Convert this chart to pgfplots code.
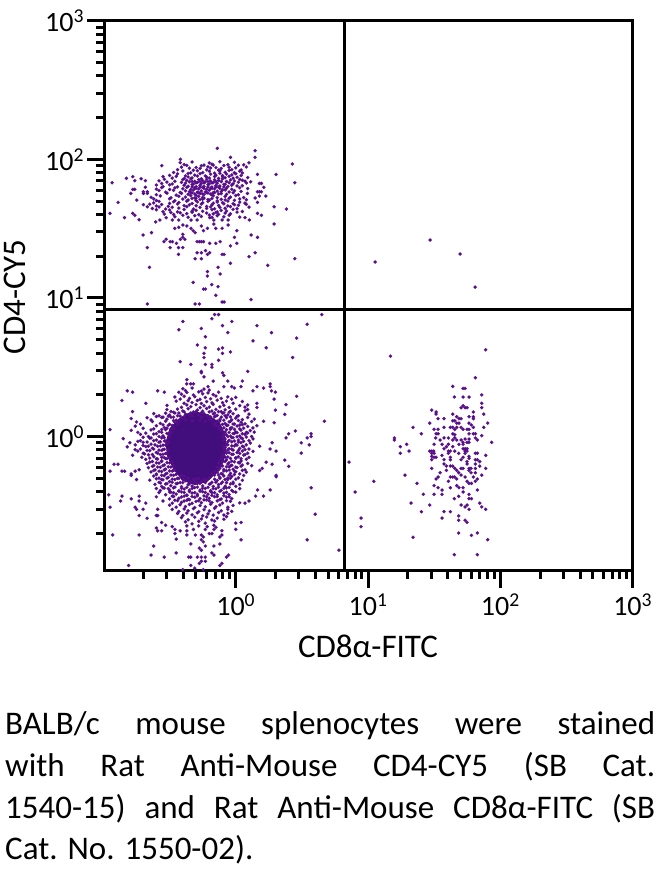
\documentclass[border=0pt]{standalone}
\usepackage{pgfplots}
\pgfplotsset{compat=1.18}
\usepackage{fontspec}
\setmainfont{Carlito}
\definecolor{dot}{RGB}{88,14,138}
\definecolor{core}{RGB}{66,14,126}
\pgfplotsset{pts/.style={only marks,mark=*,mark size=1.7pt,mark options={solid,draw=dot,fill=dot,line width=0.1pt},dot}}
\begin{document}
\begin{tikzpicture}
\useasboundingbox (0,0) rectangle (662pt,870pt);
\begin{axis}[
  at={(104.5pt,299pt)},anchor=south west,scale only axis,
  width=528.2pt,height=550.3pt,
  xmin=-0.992,xmax=3,ymin=-0.97,ymax=3,
  axis line style={black,line width=3pt},
  xtick pos=bottom,ytick pos=left,
  tick align=outside,tick style={black,line width=3pt},
  major tick length=17pt,minor tick length=8pt,
  xtick={0,1,2,3},ytick={0,1,2,3},
  xticklabels={10\textsuperscript{0},10\textsuperscript{1},10\textsuperscript{2},10\textsuperscript{3}},
  yticklabels={10\textsuperscript{0},10\textsuperscript{1},10\textsuperscript{2},10\textsuperscript{3}},
  minor xtick={-0.699,-0.523,-0.398,-0.301,-0.222,-0.155,-0.097,-0.046,0.301,0.477,0.602,0.699,0.778,0.845,0.903,0.954,1.301,1.477,1.602,1.699,1.778,1.845,1.903,1.954,2.301,2.477,2.602,2.699,2.778,2.845,2.903,2.954},
  minor ytick={-0.699,-0.523,-0.398,-0.301,-0.222,-0.155,-0.097,-0.046,0.301,0.477,0.602,0.699,0.778,0.845,0.903,0.954,1.301,1.477,1.602,1.699,1.778,1.845,1.903,1.954,2.301,2.477,2.602,2.699,2.778,2.845,2.903,2.954},
  ticklabel style={font=\fontsize{28}{32}\selectfont},
  xticklabel style={yshift=-2pt},
  xlabel={CD8α-FITC},ylabel={CD4-CY5},
  label style={font=\fontsize{33}{38}\selectfont},
  x label style={at={(axis description cs:0.499,-0.158)},anchor=base},
  y label style={at={(axis description cs:-0.15,0.498)},anchor=base},
  clip=false,
]
% upper left population, outer points
\addplot[pts] coordinates {(-.139,2.079)(.146,2.062)(.146,2.014)(-.418,2.0)(-.04,2.014)(.428,1.966)(-.559,1.954)(.305,1.891)(.164,1.891)(.446,1.831)(-.935,1.831)(-.826,1.863)(-.778,1.875)(-.763,1.846)(-.715,1.86)(-.683,1.846)(-.683,1.798)(-.778,1.783)(-.763,1.783)(-.793,1.754)(-.698,1.766)(-.698,1.754)(-.668,1.766)(-.668,1.754)(-.748,1.706)(-.889,1.689)(-.95,1.61)(-.841,1.579)(-.778,1.61)(-.763,1.596)(-.73,1.564)(-.698,1.673)(-.668,1.658)(-.7,1.454)(-.637,1.471)(-.668,1.363)(-.652,1.221)(-.668,.956)
(.29,1.658)(.383,1.641)(.29,1.533)(.164,1.61)(.194,1.596)(.07,1.579)(.103,1.562)(.179,1.826)(.194,1.826)(.212,1.798)(.164,1.766)(.179,1.766)(.194,1.766)(.179,1.735)(.227,1.735)(.146,1.721)(.164,1.689)(.113,1.838)(.07,1.843)(.088,1.754)
(.116,1.454)(.164,1.437)(.008,1.485)(-.01,1.437)(.008,1.394)(-.04,1.375)(-.118,1.406)(-.151,1.394)(-.197,1.394)(.1,1.298)(.146,1.326)(-.04,1.25)(.242,1.235)(.446,1.283)(-.103,1.314)(-.088,1.314)(-.229,1.341)(-.26,1.326)(-.292,1.326)(-.197,1.326)(-.214,1.314)(-.307,1.283)(-.26,1.283)(-.134,1.221)(-.214,1.19)(-.214,1.158)(-.118,1.173)(-.322,1.112)(-.181,1.096)(-.134,1.081)(-.244,1.064)(-.229,1.064)(-.151,1.019)(.116,.988)(-.103,.971)(-.088,.971)(-.307,.956)(-.275,.956)
(-.542,1.406)(-.526,1.423)(-.496,1.406)(-.479,1.406)(-.4,1.459)(-.4,1.437)(-.418,1.423)(-.385,1.423)(-.496,1.363)(-.448,1.394)(-.433,1.363)(-.4,1.363)(-.433,1.314)(-.292,1.406)(-.275,1.406)(-.26,1.406)(-.244,1.406)
(-.461,1.502)(-.431,1.509)(-.4,1.526)(-.37,1.519)(-.338,1.502)(-.322,1.485)(-.307,1.471)(-.26,1.519)(-.244,1.485)(-.214,1.502)(-.166,1.533)(-.151,1.502)(-.103,1.502)(-.058,1.526)(-.058,1.562)(-.103,1.562)(-.166,1.562)(-.197,1.579)(-.292,1.562)(-.338,1.562)(-.431,1.562)(-.479,1.562)(-.526,1.579)(-.574,1.562)(-.605,1.548)};
% upper left population, main body
\addplot[pts] coordinates {(-.42,1.976)(-.39,1.962)(-.33,1.981)(-.24,1.958)(-.2,1.974)(-.18,1.965)(-.12,1.983)(-.06,1.961)(-.01,1.978)(.06,1.96)(.1,1.975)
(-.41,1.944)(-.37,1.956)(-.3,1.941)(-.26,1.953)(-.21,1.946)(-.17,1.958)(-.15,1.94)(-.09,1.955)(-.05,1.943)(.02,1.957)(.08,1.945)
(-.44,1.925)(-.35,1.936)(-.32,1.921)(-.27,1.934)(-.22,1.924)(-.19,1.937)(-.13,1.922)(-.11,1.934)(-.03,1.926)(0,1.938)(.04,1.923)
(-.47,1.905)(-.4,1.916)(-.34,1.902)(-.29,1.918)(-.25,1.904)(-.2,1.914)(-.16,1.9)(-.12,1.917)(-.08,1.906)(-.05,1.919)(-.01,1.903)(.03,1.915)(.05,1.901)
(-.5,1.884)(-.44,1.895)(-.38,1.881)(-.36,1.898)(-.31,1.886)(-.27,1.896)(-.23,1.88)(-.19,1.893)(-.15,1.885)(-.12,1.899)(-.1,1.882)(-.07,1.894)(-.03,1.887)(0,1.897)(.04,1.883)
(-.55,1.875)(-.48,1.864)(-.45,1.877)(-.39,1.861)(-.36,1.873)(-.33,1.866)(-.29,1.879)(-.26,1.86)(-.22,1.872)(-.2,1.865)(-.16,1.876)(-.13,1.862)(-.1,1.874)(-.08,1.867)(-.05,1.878)(-.02,1.863)(.01,1.871)(.09,1.868)
(-.58,1.845)(-.54,1.856)(-.46,1.842)(-.4,1.854)(-.37,1.848)(-.34,1.858)(-.31,1.841)(-.28,1.853)(-.25,1.846)(-.22,1.857)(-.19,1.843)(-.16,1.852)(-.13,1.847)(-.1,1.859)(-.07,1.84)(-.04,1.851)(-.01,1.844)(.03,1.855)(.05,1.849)
(-.56,1.826)(-.52,1.836)(-.48,1.822)(-.41,1.834)(-.38,1.828)(-.35,1.838)(-.32,1.821)(-.29,1.833)(-.26,1.825)(-.23,1.837)(-.2,1.823)(-.17,1.832)(-.14,1.827)(-.11,1.839)(-.08,1.82)(-.05,1.831)(-.02,1.824)(.02,1.835)(.08,1.829)
(-.6,1.815)(-.55,1.803)(-.5,1.816)(-.44,1.801)(-.39,1.813)(-.36,1.806)(-.33,1.818)(-.3,1.802)(-.27,1.812)(-.24,1.805)(-.21,1.817)(-.18,1.8)(-.15,1.811)(-.12,1.807)(-.09,1.819)(-.06,1.804)(-.03,1.814)(.01,1.808)(.05,1.81)
(-.6,1.785)(-.56,1.796)(-.5,1.782)(-.46,1.794)(-.4,1.788)(-.37,1.798)(-.34,1.781)(-.31,1.793)(-.28,1.786)(-.25,1.797)(-.22,1.783)(-.19,1.792)(-.16,1.787)(-.13,1.799)(-.1,1.78)(-.07,1.791)(-.03,1.784)(.03,1.795)(.09,1.789)
(-.58,1.775)(-.53,1.763)(-.47,1.776)(-.42,1.761)(-.38,1.773)(-.35,1.766)(-.32,1.778)(-.29,1.762)(-.26,1.772)(-.23,1.765)(-.2,1.777)(-.17,1.76)(-.14,1.771)(-.11,1.767)(-.08,1.779)(-.05,1.764)(-.01,1.774)(.04,1.768)
(-.6,1.745)(-.52,1.756)(-.45,1.742)(-.41,1.754)(-.36,1.748)(-.33,1.758)(-.3,1.741)(-.27,1.753)(-.24,1.746)(-.21,1.757)(-.18,1.743)(-.11,1.752)(-.07,1.747)(-.02,1.759)(.02,1.744)
(-.64,1.726)(-.57,1.736)(-.49,1.722)(-.43,1.734)(-.38,1.728)(-.34,1.738)(-.31,1.721)(-.28,1.733)(-.25,1.725)(-.17,1.737)(-.14,1.723)(-.08,1.732)(-.04,1.727)(0,1.739)(.06,1.724)
(-.62,1.715)(-.6,1.703)(-.5,1.716)(-.46,1.701)(-.4,1.713)(-.36,1.706)(-.33,1.718)(-.3,1.702)(-.25,1.712)(-.2,1.705)(-.18,1.717)(-.14,1.7)(-.11,1.711)(-.08,1.707)(-.05,1.719)(-.01,1.704)(.03,1.714)(.08,1.708)
(-.62,1.685)(-.58,1.696)(-.5,1.682)(-.47,1.694)(-.43,1.688)(-.37,1.698)(-.33,1.681)(-.29,1.693)(-.25,1.686)(-.21,1.697)(-.17,1.683)(-.14,1.692)(-.1,1.687)(-.06,1.699)(-.02,1.68)(.03,1.691)(.07,1.684)
(-.65,1.676)(-.6,1.663)(-.56,1.674)(-.51,1.661)(-.44,1.678)(-.39,1.666)(-.35,1.672)(-.3,1.665)(-.26,1.677)(-.22,1.66)(-.18,1.671)(-.13,1.667)(-.09,1.679)(-.06,1.664)(-.01,1.673)(.02,1.668)(.08,1.675)
(-.63,1.645)(-.58,1.656)(-.53,1.642)(-.48,1.654)(-.43,1.648)(-.37,1.658)(-.32,1.641)(-.27,1.653)(-.22,1.646)(-.19,1.657)(-.16,1.643)(-.12,1.652)(-.08,1.647)(-.04,1.659)(.01,1.644)(.1,1.655)
(-.6,1.636)(-.55,1.623)(-.5,1.634)(-.44,1.621)(-.39,1.638)(-.33,1.626)(-.3,1.632)(-.25,1.625)(-.18,1.637)(-.14,1.62)(-.11,1.631)(-.07,1.627)(-.02,1.639)(.05,1.624)
(-.54,1.605)(-.49,1.616)(-.47,1.602)(-.42,1.614)(-.37,1.608)(-.33,1.618)(-.28,1.601)(-.22,1.613)(-.17,1.606)(-.15,1.617)(-.13,1.603)(-.08,1.612)(-.04,1.607)(.01,1.619)
(-.46,1.586)(-.4,1.596)(-.36,1.582)(-.31,1.594)(-.26,1.588)(-.2,1.598)(-.18,1.581)(-.14,1.593)(-.09,1.585)(-.05,1.597)(.03,1.583)
(-.33,1.84)(-.3,1.83)(-.27,1.84)(-.24,1.83)(-.21,1.84)(-.18,1.83)(-.15,1.84)(-.33,1.8)(-.3,1.79)(-.27,1.8)(-.24,1.79)(-.21,1.8)(-.18,1.79)(-.15,1.8)(-.12,1.79)(-.09,1.8)(-.34,1.76)(-.31,1.75)(-.28,1.76)(-.25,1.75)(-.22,1.76)(-.19,1.75)(-.16,1.76)(-.13,1.75)(-.3,1.72)(-.27,1.71)(-.24,1.72)(-.21,1.71)};
% dense core of the lower left population
\addplot[fill=core,draw=none,no marks] coordinates {(-.3,.18)(-.21,.16)(-.12,.1)(-.08,.02)(-.07,-.08)(-.09,-.18)(-.14,-.26)(-.22,-.33)(-.31,-.35)(-.4,-.32)(-.47,-.24)(-.52,-.14)(-.53,-.04)(-.5,.06)(-.43,.13)(-.36,.17)} --cycle;
% lower left population, points above and around the core
\addplot[pts] coordinates {(-.16,.88)(-.13,.88)(-.18,.85)(.65,.88)(-.4,.83)(-.03,.83)(-.26,.78)(-.1,.8)(.16,.8)(.54,.81)(-.43,.77)(-.06,.75)(.27,.75)(-.23,.72)(.46,.71)(.13,.69)(-.29,.66)(-.23,.64)(-.1,.64)(-.13,.63)(.23,.64)(-.04,.61)(-.24,.6)(-.1,.6)(-.24,.57)(.43,.57)(-.13,.55)(-.42,.54)(-.34,.52)(-.23,.52)(-.18,.52)(-.18,.5)(-.26,.47)(-.26,.46)(.09,.47)(-.1,.46)(-.09,.44)(-.24,.43)(-.37,.41)(-.17,.4)(-.06,.4)(.05,.4)(-.34,.38)(-.32,.38)(-.37,.38)(-.21,.36)(-.09,.36)(-.03,.36)(-.01,.35)(.04,.36)(.16,.36)(.26,.38)(.26,.36)(.21,.35)(.13,.33)(.27,.33)(.3,.32)(-.82,.33)(-.78,.32)(-.59,.33)(-.54,.32)(-.43,.32)(.46,.29)(.29,.27)(-.86,.26)(-.68,.24)(.16,.24)(.16,.21)(.38,.23)(.3,.19)(.37,.16)(-.78,.18)(-.79,.13)(.67,.11)(.29,.1)(.21,.11)(-.95,.05)(.45,.04)(.4,.02)(.57,.02)(.57,0)(.38,-.01)(.54,-.01)
(-.4,.345)(-.38,.332)(-.33,.35)(-.26,.328)(-.24,.342)(-.2,.335)(-.41,.305)(-.37,.318)(-.32,.3)(-.28,.322)(-.25,.308)(-.21,.315)(-.17,.302)(-.13,.32)
(-.46,.285)(-.42,.27)(-.39,.29)(-.35,.275)(-.31,.288)(-.27,.268)(-.23,.282)(-.19,.272)(-.15,.292)(-.11,.275)(-.06,.286)(-.03,.27)(0,.283)
(-.45,.255)(-.39,.24)(-.36,.258)(-.33,.245)(-.29,.26)(-.26,.238)(-.22,.252)(-.18,.243)(-.14,.262)(-.1,.244)(-.07,.256)(-.02,.24)(.05,.253)
(-.52,.225)(-.41,.21)(-.37,.228)(-.34,.215)(-.3,.23)(-.27,.208)(-.24,.222)(-.2,.213)(-.17,.232)(-.12,.214)(-.09,.226)(-.05,.21)(.03,.223)(.07,.212)(.09,.228)
(-.52,.195)(-.49,.18)(-.44,.198)(-.4,.185)(-.36,.2)(-.32,.178)(-.29,.192)(-.25,.183)(-.22,.202)(-.18,.184)(-.15,.196)(-.11,.18)(-.08,.193)(-.04,.182)(0,.198)(.07,.186)(.09,.195)
(-.62,.165)(-.58,.15)(-.53,.168)(-.5,.155)(-.46,.17)(-.42,.148)(-.38,.162)(-.35,.153)(-.31,.172)(-.28,.154)(-.24,.166)(-.21,.15)(-.17,.163)(-.14,.152)(-.1,.168)(-.06,.156)(-.02,.165)(.02,.15)(.1,.162)
(-.67,.135)(-.64,.12)(-.56,.138)(-.52,.125)(-.49,.14)(-.45,.118)(-.41,.132)(-.2,.123)(-.16,.142)(-.12,.124)(-.07,.136)(-.03,.12)(0,.133)(.05,.122)(.09,.138)(.14,.126)
(-.75,.105)(-.72,.09)(-.63,.108)(-.57,.095)(-.53,.11)(-.5,.088)(-.46,.102)(-.16,.093)(-.12,.112)(-.08,.094)(-.05,.106)(-.01,.09)(.04,.103)(.07,.092)(.12,.108)
(-.76,.075)(-.7,.06)(-.6,.078)(-.54,.065)(-.51,.08)(-.47,.058)(-.13,.072)(-.09,.063)(-.06,.082)(-.03,.064)(.01,.076)(.06,.06)(.09,.073)(.13,.062)(.16,.078)
(-.79,.045)(-.74,.03)(-.64,.048)(-.58,.035)(-.53,.05)(-.5,.028)(-.11,.042)(-.08,.033)(-.04,.052)(0,.034)(.04,.046)(.08,.03)(.11,.043)(.14,.032)
(-.72,.015)(-.66,0)(-.62,.018)(-.55,.005)(-.51,.02)(-.1,-.002)(-.07,.012)(-.04,.003)(-.01,.022)(.03,.004)(.07,.016)(.12,0)
(-.85,-.015)(-.72,-.03)(-.65,-.012)(-.6,-.025)(-.56,-.01)(-.53,-.032)(-.08,-.018)(-.05,-.027)(-.02,-.008)(.02,-.026)(.05,-.014)(.1,-.03)(.13,-.017)
(-.8,-.045)(-.76,-.06)(-.7,-.042)(-.64,-.055)(-.58,-.04)(-.55,-.062)(-.52,-.048)(-.07,-.057)(-.03,-.038)(0,-.056)(.04,-.044)(.08,-.06)(.11,-.047)
(-.82,-.075)(-.72,-.09)(-.68,-.072)(-.63,-.085)(-.59,-.07)(-.55,-.092)(-.08,-.078)(-.05,-.087)(-.01,-.068)(.03,-.086)(.06,-.074)(.1,-.09)
(-.74,-.105)(-.7,-.12)(-.65,-.102)(-.6,-.115)(-.56,-.1)(-.53,-.122)(-.08,-.108)(-.05,-.117)(-.02,-.098)(.01,-.116)(.05,-.104)(.09,-.12)(.13,-.107)
(-.78,-.135)(-.71,-.15)(-.66,-.132)(-.62,-.145)(-.57,-.13)(-.54,-.152)(-.09,-.138)(-.06,-.147)(-.02,-.128)(.02,-.146)(.06,-.134)(.1,-.15)
(-.68,-.165)(-.63,-.18)(-.59,-.162)(-.56,-.175)(-.52,-.16)(-.1,-.182)(-.07,-.168)(-.03,-.177)(0,-.158)(.04,-.176)(.08,-.164)
(-.67,-.195)(-.62,-.21)(-.58,-.192)(-.54,-.205)(-.5,-.19)(-.1,-.212)(-.06,-.198)(-.03,-.207)(.02,-.188)(.05,-.206)(.09,-.194)(.12,-.21)
(-.66,-.225)(-.61,-.24)(-.57,-.222)(-.53,-.235)(-.49,-.22)(-.46,-.242)(-.12,-.228)(-.09,-.237)(-.05,-.218)(-.02,-.236)(.01,-.224)(.07,-.24)
(-.64,-.255)(-.6,-.27)(-.56,-.252)(-.52,-.265)(-.48,-.25)(-.45,-.272)(-.14,-.258)(-.11,-.267)(-.07,-.248)(-.04,-.266)(0,-.254)(.03,-.27)(.08,-.257)
(-.62,-.285)(-.58,-.3)(-.54,-.282)(-.51,-.295)(-.47,-.28)(-.43,-.302)(-.39,-.288)(-.2,-.297)(-.16,-.278)(-.12,-.296)(-.09,-.284)(-.06,-.3)(-.03,-.287)(.02,-.298)(.06,-.281)
(-.65,-.315)(-.58,-.33)(-.55,-.312)(-.5,-.325)(-.46,-.31)(-.42,-.332)(-.38,-.318)(-.34,-.327)(-.3,-.308)(-.26,-.326)(-.22,-.314)(-.18,-.33)(-.14,-.317)(-.1,-.328)(-.06,-.311)(-.02,-.329)(.05,-.316)
(-.61,-.345)(-.56,-.36)(-.53,-.342)(-.49,-.355)(-.45,-.34)(-.41,-.362)(-.36,-.348)(-.33,-.357)(-.29,-.338)(-.25,-.356)(-.2,-.344)(-.17,-.36)(-.13,-.347)(-.08,-.358)(-.04,-.341)(0,-.359)(.03,-.346)
(-.6,-.375)(-.57,-.39)(-.54,-.372)(-.5,-.385)(-.47,-.37)(-.43,-.392)(-.39,-.378)(-.35,-.387)(-.31,-.368)(-.27,-.386)(-.23,-.374)(-.19,-.39)(-.15,-.377)(-.11,-.388)(-.07,-.371)(-.03,-.389)(.03,-.376)
(-.58,-.405)(-.53,-.42)(-.49,-.402)(-.45,-.415)(-.41,-.4)(-.37,-.422)(-.33,-.408)(-.29,-.417)(-.25,-.398)(-.21,-.416)(-.18,-.404)(-.14,-.42)(-.09,-.407)(-.05,-.418)(0,-.401)
(-.6,-.435)(-.5,-.45)(-.47,-.432)(-.43,-.445)(-.39,-.43)(-.36,-.452)(-.31,-.438)(-.27,-.447)(-.24,-.428)(-.2,-.446)(-.16,-.434)(-.11,-.45)(-.07,-.437)(-.03,-.448)
(-.55,-.465)(-.48,-.48)(-.44,-.462)(-.41,-.475)(-.37,-.46)(-.33,-.482)(-.3,-.468)(-.26,-.477)(-.22,-.458)(-.18,-.476)(-.14,-.464)(-.1,-.48)(-.04,-.467)(.03,-.478)
(-.5,-.495)(-.45,-.51)(-.42,-.492)(-.38,-.505)(-.35,-.49)(-.31,-.512)(-.27,-.498)(-.23,-.507)(-.19,-.488)(-.15,-.506)(-.12,-.494)(-.06,-.51)(-.02,-.497)
(-.48,-.525)(-.43,-.54)(-.39,-.522)(-.36,-.535)(-.32,-.52)(-.28,-.542)(-.24,-.528)(-.2,-.537)(-.16,-.518)(-.11,-.536)(-.06,-.524)(-.03,-.54)
(-.44,-.555)(-.4,-.57)(-.37,-.552)(-.33,-.565)(-.29,-.55)(-.25,-.572)(-.21,-.558)(-.17,-.567)(-.13,-.548)(-.09,-.566)(-.06,-.554)
(-.41,-.585)(-.36,-.6)(-.31,-.582)(-.26,-.595)(-.22,-.58)(-.18,-.602)(-.14,-.588)(-.09,-.597)(-.07,-.578)
(-.38,-.615)(-.33,-.63)(-.28,-.612)(-.23,-.625)(-.16,-.61)
(-.47,.175)(-.43,.17)(-.39,.178)(-.34,.17)(-.3,.18)(-.26,.172)(-.2,.178)(-.16,.17)(-.13,.18)(-.09,.172)(-.05,.176)
(-.6,.145)(-.55,.14)(-.51,.148)(-.47,.14)(-.44,.15)(-.39,.142)(-.33,.148)(-.26,.14)(-.22,.15)(-.19,.142)(-.15,.148)(-.11,.14)(-.08,.15)(-.04,.142)(.01,.146)
(-.47,.115)(-.43,.11)(-.38,.12)(-.33,.112)(-.27,.118)(-.23,.11)(-.18,.12)(-.14,.112)(-.09,.118)(-.04,.11)(.02,.116)
(-.55,.085)(-.48,.08)(-.44,.09)(-.15,.082)(-.1,.088)(-.07,.08)(-.02,.09)(.03,.082)(.05,.086)
(-.62,.055)(-.56,.05)(-.52,.06)(-.49,.052)(-.12,.058)(-.07,.05)(-.04,.06)(-.01,.052)(.03,.056)
(-.68,.025)(-.6,.02)(-.56,.03)(-.52,.022)(-.49,.028)(-.09,.02)(-.05,.03)(-.02,.022)(.01,.028)(.05,.02)(.09,.026)
(-.7,-.005)(-.64,-.01)(-.58,0)(-.54,-.008)(-.5,-.002)(-.09,-.01)(-.06,0)(-.03,-.008)(.01,-.002)(.04,-.01)(.08,-.004)
(-.74,-.035)(-.67,-.04)(-.62,-.03)(-.57,-.038)(-.54,-.032)(-.51,-.04)(-.09,-.03)(-.06,-.038)(-.01,-.032)(.02,-.04)(.06,-.034)
(-.7,-.065)(-.66,-.07)(-.61,-.06)(-.57,-.068)(-.53,-.062)(-.09,-.07)(-.06,-.06)(-.03,-.068)(.01,-.062)(.05,-.07)
(-.76,-.095)(-.67,-.1)(-.62,-.09)(-.58,-.098)(-.54,-.092)(-.51,-.1)(-.09,-.09)(-.06,-.098)(-.03,-.092)(.02,-.1)(.07,-.094)
(-.69,-.125)(-.63,-.13)(-.59,-.12)(-.55,-.128)(-.52,-.122)(-.1,-.13)(-.07,-.12)(-.03,-.128)(.03,-.122)(.07,-.13)
(-.65,-.155)(-.6,-.16)(-.56,-.15)(-.53,-.158)(-.5,-.152)(-.11,-.16)(-.08,-.15)(-.04,-.158)(0,-.152)(.04,-.16)
(-.65,-.185)(-.6,-.19)(-.56,-.18)(-.52,-.188)(-.48,-.182)(-.13,-.19)(-.08,-.18)(-.05,-.188)(-.01,-.182)(.03,-.19)
(-.63,-.215)(-.59,-.22)(-.55,-.21)(-.51,-.218)(-.47,-.212)(-.14,-.22)(-.11,-.21)(-.07,-.218)(-.04,-.212)(0,-.22)(.04,-.214)
(-.62,-.245)(-.58,-.25)(-.54,-.24)(-.5,-.248)(-.47,-.242)(-.16,-.25)(-.13,-.24)(-.09,-.248)(-.05,-.242)(-.01,-.25)(.05,-.244)
(-.6,-.275)(-.56,-.28)(-.53,-.27)(-.49,-.278)(-.45,-.272)(-.41,-.28)(-.18,-.27)(-.13,-.278)(-.1,-.272)(-.05,-.28)(-.01,-.274)
(-.6,-.305)(-.56,-.31)(-.52,-.3)(-.48,-.308)(-.44,-.302)(-.4,-.31)(-.36,-.3)(-.32,-.308)(-.28,-.302)(-.24,-.31)(-.2,-.3)(-.16,-.308)(-.12,-.302)(-.08,-.31)(-.04,-.3)(0,-.308)
(-.57,-.335)(-.52,-.34)(-.48,-.33)(-.44,-.338)(-.4,-.332)(-.35,-.34)(-.31,-.33)(-.27,-.338)(-.23,-.332)(-.19,-.34)(-.15,-.33)(-.11,-.338)(-.07,-.332)(-.02,-.34)
(-.55,-.37)(-.51,-.375)(-.46,-.365)(-.41,-.373)(-.37,-.367)(-.33,-.375)(-.29,-.365)(-.25,-.373)(-.21,-.367)(-.17,-.375)(-.13,-.365)(-.09,-.373)(-.05,-.367)
(-.5,-.4)(-.47,-.405)(-.43,-.395)(-.39,-.403)(-.35,-.397)(-.31,-.405)(-.27,-.395)(-.23,-.403)(-.19,-.397)(-.16,-.405)(-.12,-.395)(-.07,-.403)(-.02,-.397)
(-.48,-.43)(-.41,-.435)(-.37,-.425)(-.33,-.433)(-.29,-.427)(-.22,-.435)(-.18,-.425)(-.14,-.433)(-.09,-.427)(-.05,-.435)
(-.46,-.46)(-.39,-.465)(-.35,-.455)(-.28,-.463)(-.24,-.457)(-.2,-.465)(-.12,-.455)(-.07,-.463)};
% lower left population, outlying points
\addplot[pts] coordinates {(-.92,-.2)(-.89,-.2)(-.95,-.25)(-.86,-.25)(-.84,-.25)(-.79,-.27)(-.79,-.28)(-.75,-.31)(-.73,-.24)(-.76,-.25)(-.96,-.42)(-.86,-.43)(-.87,-.465)(-.79,-.45)(-.73,-.43)(-.73,-.465)(-.68,-.48)(-.95,-.51)(-.76,-.51)(-.75,-.525)(-.7,-.525)(-.73,-.57)(-.67,-.59)(-.6,-.57)(-.59,-.57)(-.59,-.525)(-.93,-.71)(-.73,-.71)(-.6,-.66)(-.59,-.68)(-.56,-.62)(-.56,-.68)(-.53,-.64)(-.48,-.65)(-.46,-.67)(-.46,-.7)(-.62,-.79)(-.64,-.855)(-.54,-.87)(-.45,-.74)(-.45,-.84)(-.81,-.93)(-.4,-.96)
(-.42,-.68)(-.37,-.68)(-.37,-.71)(-.34,-.775)(-.305,-.71)(-.26,-.71)(-.245,-.725)(-.26,-.745)(-.245,-.76)(-.275,-.805)(-.26,-.82)(-.23,-.79)(-.165,-.79)(-.12,-.775)(-.18,-.84)(-.165,-.855)(-.355,-.87)(-.34,-.87)(-.29,-.87)(-.26,-.87)(-.23,-.87)(-.26,-.9)(-.23,-.9)(-.275,-.915)(-.34,-.93)(-.31,-.95)(-.245,-.96)(-.105,-.915)(-.12,-.93)(-.055,-.855)(-.07,-.87)(-.105,-.71)(-.12,-.725)(-.105,-.68)(-.165,-.64)(-.215,-.65)(-.23,-.67)(-.18,-.7)(-.2,-.7)(-.15,-.655)(-.165,-.67)(-.28,-.645)(-.32,-.67)(-.37,-.645)
(0,-.625)(.04,-.62)(0,-.67)(.04,-.745)(.54,-.745)(.6,-.56)(.78,-.82)(.57,-.37)(.165,-.385)(.26,-.385)(.15,-.43)(.21,-.43)(.1,-.465)(.07,-.48)(.305,-.28)(.305,-.29)(.4,-.215)(.37,-.17)(.275,-.2)(.23,-.185)(.2,-.23)(.18,-.245)(.18,-.07)(.26,-.09)(.305,-.105)(.275,-.045)(.495,-.045)(.555,-.06)(.495,-.12)};
% lower right population and upper right points
\addplot[pts] coordinates {(1.889,.626)(1.169,.58)(1.811,.424)(1.64,.362)(1.718,.347)(1.733,.347)(1.859,.3)(1.652,.285)(1.718,.285)(1.763,.285)(1.859,.24)(1.859,.208)(1.718,.222)(1.703,.208)(1.733,.208)(1.748,.208)(1.481,.191)(1.514,.177)(1.514,.162)(1.796,.177)(1.874,.162)(1.64,.162)(1.67,.143)(1.763,.143)(1.796,.143)(1.796,.129)(1.529,.129)(1.574,.129)(1.687,.129)(1.703,.129)(1.64,.114)(1.655,.114)(1.466,.097)(1.67,.097)(1.687,.097)(1.763,.097)(1.904,.097)(1.781,.083)(1.34,.066)(1.574,.066)(1.622,.066)(1.64,.066)(1.67,.066)(1.703,.066)(1.796,.066)(1.874,.066)(1.499,.052)(1.529,.052)(1.655,.052)(1.718,.052)(1.748,.052)(1.763,.052)(1.403,.02)(1.514,.02)(1.529,.02)(1.64,.02)(1.655,.013)(1.763,.02)(1.796,.02)(1.811,.02)(1.859,.006)(1.511,-.01)(1.574,-.01)(1.607,-.01)(1.655,-.01)(1.811,-.01)(1.199,-.01)(1.199,-.025)(1.544,-.025)(1.64,-.025)(1.67,-.025)(1.703,-.025)(1.733,-.018)(1.763,-.018)(1.826,-.025)(1.934,-.042)(1.718,-.042)(1.748,-.042)(1.763,-.042)(1.292,-.056)(1.499,-.056)(1.559,-.056)(1.607,-.056)(1.687,-.056)(1.718,-.056)(1.244,-.073)(1.574,-.088)(1.592,-.073)(1.64,-.073)(1.718,-.088)(1.733,-.088)(1.748,-.088)(1.31,-.105)(1.481,-.105)(1.466,-.105)(1.496,-.105)(1.607,-.105)(1.622,-.105)(1.655,-.105)(1.733,-.105)(1.748,-.105)(1.244,-.121)(1.481,-.121)(1.499,-.121)(1.559,-.136)(1.607,-.121)(1.685,-.121)(1.733,-.121)(1.811,-.121)(1.826,-.121)(1.889,-.136)(1.481,-.143)(1.499,-.15)(1.514,-.15)(1.622,-.15)(1.718,-.15)(1.763,-.143)(1.763,-.157)(1.481,-.167)(1.574,-.167)(1.622,-.167)(1.703,-.167)(1.748,-.181)(1.811,-.167)(1.826,-.167)(1.844,-.181)(.856,-.184)(1.574,-.198)(1.592,-.213)(1.64,-.213)(1.622,-.213)(1.748,-.198)(1.811,-.198)(1.844,-.213)(1.481,-.23)(1.655,-.23)(1.703,-.23)(1.718,-.23)(1.763,-.23)(1.778,-.23)(1.811,-.23)(1.889,-.23)(1.544,-.261)(1.592,-.244)(1.67,-.244)(1.685,-.261)(1.763,-.244)(1.778,-.261)(1.811,-.261)(1.279,-.278)(1.514,-.306)(1.529,-.292)(1.622,-.292)(1.64,-.292)(1.655,-.292)(1.703,-.278)(1.733,-.292)(1.796,-.292)(1.859,-.278)(1.043,-.323)(1.607,-.323)(1.67,-.306)(1.748,-.323)(1.763,-.338)(1.781,-.338)(1.826,-.306)(1.811,-.323)(1.37,-.338)(1.499,-.354)(1.529,-.369)(1.622,-.369)(1.67,-.354)(1.687,-.369)(1.718,-.369)(.902,-.4)(1.559,-.386)(1.826,-.386)(1.718,-.4)(1.418,-.417)(1.499,-.417)(1.559,-.417)(1.685,-.431)(1.763,-.417)(1.652,-.448)(1.763,-.448)(1.781,-.448)(1.325,-.48)(1.466,-.494)(1.703,-.494)(1.748,-.494)(1.733,-.508)(1.844,-.48)(1.859,-.508)(1.889,-.525)(1.763,-.525)(1.403,-.542)(1.574,-.542)(1.622,-.542)(1.685,-.573)(1.559,-.588)(.947,-.588)(.947,-.65)(1.685,-.604)(1.733,-.604)(1.748,-.619)(1.685,-.696)(1.781,-.713)(1.826,-.696)(1.34,-.727)(1.904,-.744)(1.652,-.852)(1.826,-.852)
(1.469,1.418)(1.696,1.317)(1.809,1.078)(1.053,1.259)};
% quadrant gates
\addplot[black,line width=3pt,no marks] coordinates {(.822,-.97)(.822,3)};
\addplot[black,line width=3pt,no marks] coordinates {(-.992,.916)(3,.916)};
\end{axis}
\newcommand{\capline}[2]{\node[anchor=base west,inner sep=0pt,font=\fontsize{33}{38}\selectfont] at (5pt,#1) {#2};}
\capline{135pt}{\makebox[650pt][s]{BALB/c mouse splenocytes were stained}}
\capline{93pt}{\makebox[650pt][s]{with Rat Anti-Mouse CD4-CY5 (SB Cat.}}
\capline{51pt}{\makebox[650pt][s]{1540-15) and Rat Anti-Mouse CD8α-FITC (SB}}
\capline{10pt}{Cat. No. 1550-02).}
\end{tikzpicture}
\end{document}
